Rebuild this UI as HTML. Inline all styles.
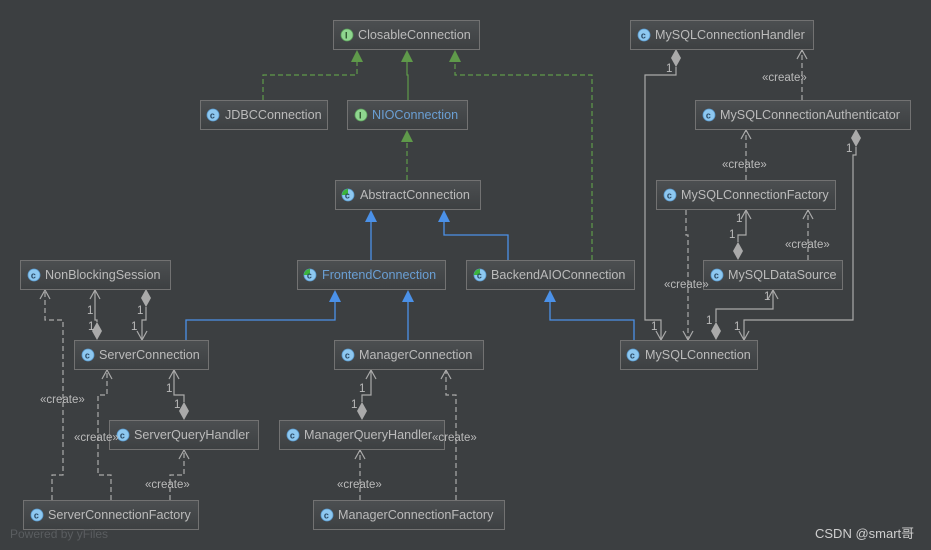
<!DOCTYPE html>
<html><head><meta charset="utf-8">
<style>
html,body{margin:0;padding:0;background:#3c3f41;}
svg{display:block;}
text{font-family:"Liberation Sans","DejaVu Sans",sans-serif;}
.nt{font-size:12.6px;fill:#bbbbbb;}
.nb{font-size:12.6px;fill:#6a9fd4;}
.lb{font-size:11.5px;fill:#bbbbbb;}
.g{stroke:#aaaaaa;stroke-width:1.2;fill:none;}
.gd{stroke:#aaaaaa;stroke-width:1.2;fill:none;stroke-dasharray:5,3;}
.gr{stroke:#5f9a4a;stroke-width:1.2;fill:none;}
.grd{stroke:#5f9a4a;stroke-width:1.2;fill:none;stroke-dasharray:5,3;}
.bl{stroke:#4b91e8;stroke-width:1.3;fill:none;}
</style></head><body>
<svg width="931" height="550" viewBox="0 0 931 550" xmlns="http://www.w3.org/2000/svg">
<defs>
<linearGradient id="ng" x1="0" y1="0" x2="0" y2="1">
<stop offset="0" stop-color="#4c4f51"/><stop offset="1" stop-color="#3d4042"/>
</linearGradient>
<g id="ci"><circle r="6" fill="#8ec8f0" stroke="#5a9bd0" stroke-width="0.8"/><text x="-3.2" y="3.5" font-size="9" font-weight="bold" fill="#2a4a66">c</text></g>
<g id="ii"><circle r="6" fill="#8fd68f" stroke="#5aa05a" stroke-width="0.8"/><text x="-2" y="3.5" font-size="9" font-weight="bold" fill="#2a502a">I</text></g>
<g id="ai"><circle r="6" fill="#8ec8f0" stroke="#5a9bd0" stroke-width="0.8"/><path d="M0,0 L0,-6 A6,6 0 0,0 -6,0 Z" fill="#3cb43c"/><text x="-3.2" y="3.5" font-size="9" font-weight="bold" fill="#2a4a66">c</text></g>
</defs>

<!-- green edges -->
<path class="grd" d="M263,100 V75 H357 V61"/>
<polygon points="357,50 351,62 363,62" fill="#5f9a4a"/>
<path class="gr" d="M408,100 V75 H407 V61"/>
<polygon points="407,50 401,62 413,62" fill="#5f9a4a"/>
<path class="grd" d="M592,260 V75 H455 V61"/>
<polygon points="455,50 449,62 461,62" fill="#5f9a4a"/>
<path class="grd" d="M407,180 V141"/>
<polygon points="407,130 401,142 413,142" fill="#5f9a4a"/>

<!-- blue edges -->
<path class="bl" d="M371,260 V221"/>
<polygon points="371,210 365,222 377,222" fill="#4b91e8"/>
<path class="bl" d="M508,260 V235 H444 V221"/>
<polygon points="444,210 438,222 450,222" fill="#4b91e8"/>
<path class="bl" d="M186,340 V320 H335 V301"/>
<polygon points="335,290 329,302 341,302" fill="#4b91e8"/>
<path class="bl" d="M408,340 V301"/>
<polygon points="408,290 402,302 414,302" fill="#4b91e8"/>
<path class="bl" d="M634,340 V320 H550 V301"/>
<polygon points="550,290 544,302 556,302" fill="#4b91e8"/>

<!-- gray edges left -->
<path class="gd" d="M52,500 V475 H63 V320 H45 V290"/>
<path class="g" d="M40,299 L45,290 L50,299"/>
<path class="g" d="M95,290 V320 H97 V322"/>
<path class="g" d="M90,299 L95,290 L100,299"/>
<polygon points="97,322 102,331 97,340 92,331" fill="#aaaaaa"/>
<path class="g" d="M146,307 V320 H142 V340"/>
<polygon points="146,289 151,298 146,307 141,298" fill="#aaaaaa"/>
<path class="g" d="M137,331 L142,340 L147,331"/>
<path class="gd" d="M111,500 V475 H98 V395 H107 V370"/>
<path class="g" d="M102,379 L107,370 L112,379"/>
<path class="g" d="M174,370 V395 H184 V402"/>
<path class="g" d="M169,379 L174,370 L179,379"/>
<polygon points="184,402 189,411 184,420 179,411" fill="#aaaaaa"/>
<path class="gd" d="M170,500 V475 H184 V450"/>
<path class="g" d="M179,459 L184,450 L189,459"/>
<path class="g" d="M371,370 V395 H362 V402"/>
<path class="g" d="M366,379 L371,370 L376,379"/>
<polygon points="362,402 367,411 362,420 357,411" fill="#aaaaaa"/>
<path class="gd" d="M456,500 V395 H446 V370"/>
<path class="g" d="M441,379 L446,370 L451,379"/>
<path class="gd" d="M360,500 V450"/>
<path class="g" d="M355,459 L360,450 L365,459"/>

<!-- gray edges right -->
<path class="g" d="M676,67 V75 H645 V320 H661 V340"/>
<polygon points="676,49 681,58 676,67 671,58" fill="#aaaaaa"/>
<path class="g" d="M656,331 L661,340 L666,331"/>
<path class="gd" d="M802,100 V50"/>
<path class="g" d="M797,59 L802,50 L807,59"/>
<path class="gd" d="M746,180 V130"/>
<path class="g" d="M741,139 L746,130 L751,139"/>
<path class="gd" d="M686,210 V235 H688 V340" stroke-dasharray="6,3,1,3"/>
<path class="g" d="M683,331 L688,340 L693,331"/>
<path class="g" d="M738,242 V235 H746 V210"/>
<polygon points="738,242 743,251 738,260 733,251" fill="#aaaaaa"/>
<path class="g" d="M741,219 L746,210 L751,219"/>
<path class="gd" d="M808,260 V210"/>
<path class="g" d="M803,219 L808,210 L813,219"/>
<path class="g" d="M773,290 V309 H716 V322"/>
<path class="g" d="M768,299 L773,290 L778,299"/>
<polygon points="716,322 721,331 716,340 711,331" fill="#aaaaaa"/>
<path class="g" d="M856,147 V155 H853 V320 H744 V340"/>
<polygon points="856,129 861,138 856,147 851,138" fill="#aaaaaa"/>
<path class="g" d="M739,331 L744,340 L749,331"/>

<!-- nodes -->
<g>
<rect x="333.5" y="20.5" width="146" height="29" fill="url(#ng)" stroke="#727272"/><use href="#ii" x="347" y="35"/><text class="nt" x="358" y="39">ClosableConnection</text>
<rect x="200.5" y="100.5" width="127" height="29" fill="url(#ng)" stroke="#727272"/><use href="#ci" x="213" y="115"/><text class="nt" x="225" y="119">JDBCConnection</text>
<rect x="347.5" y="100.5" width="120" height="29" fill="url(#ng)" stroke="#727272"/><use href="#ii" x="361" y="115"/><text class="nb" x="372" y="119">NIOConnection</text>
<rect x="335.5" y="180.5" width="145" height="29" fill="url(#ng)" stroke="#727272"/><use href="#ai" x="348" y="195"/><text class="nt" x="360" y="199">AbstractConnection</text>
<rect x="297.5" y="260.5" width="148" height="29" fill="url(#ng)" stroke="#727272"/><use href="#ai" x="310" y="275"/><text class="nb" x="322" y="279">FrontendConnection</text>
<rect x="466.5" y="260.5" width="168" height="29" fill="url(#ng)" stroke="#727272"/><use href="#ai" x="480" y="275"/><text class="nt" x="491" y="279">BackendAIOConnection</text>
<rect x="20.5" y="260.5" width="150" height="29" fill="url(#ng)" stroke="#727272"/><use href="#ci" x="34" y="275"/><text class="nt" x="45" y="279">NonBlockingSession</text>
<rect x="74.5" y="340.5" width="134" height="29" fill="url(#ng)" stroke="#727272"/><use href="#ci" x="88" y="355"/><text class="nt" x="99" y="359">ServerConnection</text>
<rect x="334.5" y="340.5" width="149" height="29" fill="url(#ng)" stroke="#727272"/><use href="#ci" x="348" y="355"/><text class="nt" x="359" y="359">ManagerConnection</text>
<rect x="109.5" y="420.5" width="149" height="29" fill="url(#ng)" stroke="#727272"/><use href="#ci" x="123" y="435"/><text class="nt" x="134" y="439">ServerQueryHandler</text>
<rect x="279.5" y="420.5" width="165" height="29" fill="url(#ng)" stroke="#727272"/><use href="#ci" x="293" y="435"/><text class="nt" x="304" y="439">ManagerQueryHandler</text>
<rect x="23.5" y="500.5" width="175" height="29" fill="url(#ng)" stroke="#727272"/><use href="#ci" x="37" y="515"/><text class="nt" x="48" y="519">ServerConnectionFactory</text>
<rect x="313.5" y="500.5" width="191" height="29" fill="url(#ng)" stroke="#727272"/><use href="#ci" x="327" y="515"/><text class="nt" x="338" y="519">ManagerConnectionFactory</text>
<rect x="630.5" y="20.5" width="183" height="29" fill="url(#ng)" stroke="#727272"/><use href="#ci" x="644" y="35"/><text class="nt" x="655" y="39">MySQLConnectionHandler</text>
<rect x="695.5" y="100.5" width="215" height="29" fill="url(#ng)" stroke="#727272"/><use href="#ci" x="709" y="115"/><text class="nt" x="720" y="119">MySQLConnectionAuthenticator</text>
<rect x="656.5" y="180.5" width="179" height="29" fill="url(#ng)" stroke="#727272"/><use href="#ci" x="670" y="195"/><text class="nt" x="681" y="199">MySQLConnectionFactory</text>
<rect x="703.5" y="260.5" width="139" height="29" fill="url(#ng)" stroke="#727272"/><use href="#ci" x="717" y="275"/><text class="nt" x="728" y="279">MySQLDataSource</text>
<rect x="620.5" y="340.5" width="137" height="29" fill="url(#ng)" stroke="#727272"/><use href="#ci" x="633" y="355"/><text class="nt" x="645" y="359">MySQLConnection</text>
</g>

<!-- labels (on top of nodes) -->
<g class="lb">
<text x="87" y="314">1</text><text x="88" y="330">1</text>
<text x="137" y="314">1</text><text x="131" y="330">1</text>
<text x="166" y="392">1</text><text x="174" y="408">1</text>
<text x="359" y="392">1</text><text x="351" y="408">1</text>
<text x="40" y="403">«create»</text>
<text x="74" y="441">«create»</text>
<text x="145" y="488">«create»</text>
<text x="432" y="441">«create»</text>
<text x="337" y="488">«create»</text>
<text x="666" y="72">1</text>
<text x="762" y="81">«create»</text>
<text x="722" y="168">«create»</text>
<text x="736" y="222">1</text><text x="729" y="238">1</text>
<text x="785" y="248">«create»</text>
<text x="664" y="288">«create»</text>
<text x="764" y="300">1</text>
<text x="706" y="324">1</text>
<text x="846" y="152">1</text>
<text x="651" y="330">1</text>
<text x="734" y="330">1</text>
</g>

<text x="10" y="538" font-size="12" fill="#5a5d60">Powered by yFiles</text>
<text x="815" y="538" font-size="13" fill="#cfcfcf" style='font-family:"Liberation Sans","Noto Sans CJK SC",sans-serif'>CSDN @smart哥</text>
</svg>
</body></html>
